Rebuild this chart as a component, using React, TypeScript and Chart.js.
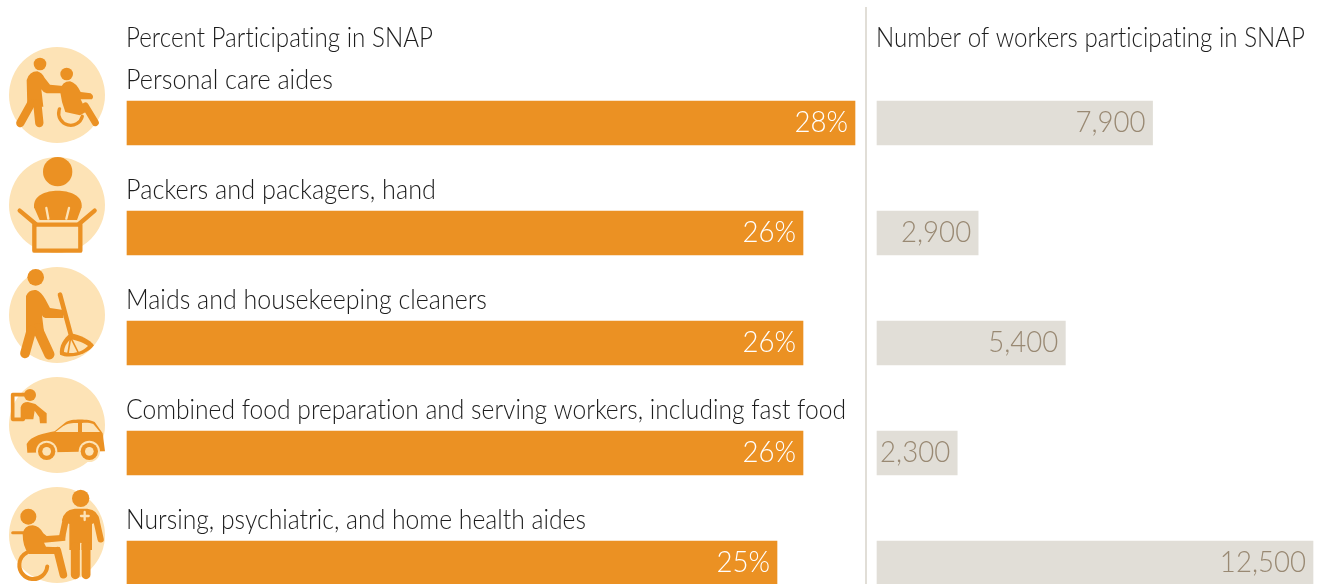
import React, { useEffect, useRef } from "react";
import { Chart, registerables } from "chart.js";

Chart.register(...registerables);

const categories = [
  "Personal care aides",
  "Packers and packagers, hand",
  "Maids and housekeeping cleaners",
  "Combined food preparation and serving workers, including fast food",
  "Nursing, psychiatric, and home health aides",
];
const percentValues = [28, 26, 26, 26, 25];
const workerValues = [7900, 2900, 5400, 2300, 12500];
const leftTitle = "Percent Participating in SNAP";
const rightTitle = "Number of workers participating in SNAP";

const ORANGE = "#EB9123";
const PALE = "#FDE3B6";
const GREY_BAR = "#E1DED7";
const GREY_TEXT = "#998973";
const INK = "#1c1c1c";
const FONT = "Lato";
const W = 1319;
const H = 584;
const SPLIT = 866;
// Rendered widths of the text lines, so that the substitute font keeps the original's set width.
const labelWidths = [207, 310, 361, 720, 460];
const leftTitleWidth = 307;
const rightTitleWidth = 429;
const valueSqueeze = 0.92;

type Ctx = CanvasRenderingContext2D;

function dot(c: Ctx, x: number, y: number, r: number, col = ORANGE) {
  c.fillStyle = col;
  c.beginPath();
  c.arc(x, y, r, 0, Math.PI * 2);
  c.fill();
}
function line(c: Ctx, w: number, pts: number[], col = ORANGE) {
  c.strokeStyle = col;
  c.lineWidth = w;
  c.lineCap = "round";
  c.lineJoin = "round";
  c.beginPath();
  for (let i = 0; i < pts.length; i += 2) {
    if (i === 0) c.moveTo(pts[i], pts[i + 1]);
    else c.lineTo(pts[i], pts[i + 1]);
  }
  c.stroke();
}
function shape(c: Ctx, d: string, col = ORANGE) {
  c.fillStyle = col;
  c.fill(new Path2D(d));
}

// Pictograms, each drawn in its own 3x coordinate space around [cx, cy].
const icons: { cx: number; cy: number; draw: (c: Ctx) => void }[] = [
  {
    cx: 171,
    cy: 285,
    draw: (c) => {
      dot(c, 120, 192, 19);
      shape(c, "M80 240 Q88 214 112 214 Q126 218 134 234 L150 254 L190 258 L190 280 L140 280 Q130 278 124 268 L130 320 L82 320 Z");
      line(c, 25, [94, 310, 61, 369]);
      line(c, 25, [112, 310, 118, 369]);
      dot(c, 200, 222, 19);
      shape(c, "M180 272 Q186 244 210 244 Q228 248 242 276 L272 280 Q284 288 276 298 L242 298 L250 314 Q262 316 268 330 L240 346 L196 336 Q184 306 180 272 Z");
      c.strokeStyle = ORANGE;
      c.lineWidth = 10;
      c.beginPath();
      c.arc(212, 340, 36, 0.25, Math.PI * 1.12);
      c.stroke();
      line(c, 21, [256, 318, 286, 368]);
    },
  },
  {
    cx: 172,
    cy: 615,
    draw: (c) => {
      dot(c, 174, 515, 44);
      shape(c, "M103 622 C100 585 140 572 174 572 C208 572 250 585 246 622 L232 660 L120 660 Z");
      line(c, 7, [140, 624, 146, 656], PALE);
      line(c, 7, [208, 624, 200, 656], PALE);
      c.fillStyle = PALE;
      c.fillRect(104, 674, 138, 78);
      c.strokeStyle = ORANGE;
      c.lineWidth = 13;
      c.lineJoin = "round";
      c.strokeRect(104, 674, 138, 78);
      line(c, 13, [60, 632, 108, 672]);
      line(c, 13, [285, 632, 238, 672]);
    },
  },
  {
    cx: 171,
    cy: 165,
    draw: (c) => {
      dot(c, 107, 52, 25);
      shape(c, "M78 108 Q86 88 108 90 Q124 96 136 118 L150 144 L190 150 L190 174 L136 174 Q128 172 126 166 L132 216 L78 216 Z");
      line(c, 31, [112, 205, 148, 283]);
      line(c, 29, [94, 212, 75, 280]);
      line(c, 14, [180, 104, 212, 222]);
      shape(c, "M212 220 C240 224 270 240 282 256 C262 284 210 298 180 284 C176 260 192 232 212 220 Z");
      shape(c, "M212 238 C234 242 254 250 264 258 C246 276 218 284 192 276 C192 262 200 248 212 238 Z", PALE);
      line(c, 5, [212, 232, 204, 280]);
      line(c, 5, [212, 232, 234, 276]);
    },
  },
  {
    cx: 171,
    cy: 495,
    draw: (c) => {
      line(c, 11, [74, 404, 38, 404, 38, 478, 70, 478], ORANGE);
      dot(c, 90, 405, 18);
      shape(c, "M62 478 L62 442 Q66 426 84 426 L106 432 L140 460 L140 490 L120 490 L118 472 L104 452 L100 478 Z");
      shape(c, "M82 578 L80 552 C92 528 132 520 164 514 L198 486 C212 476 268 476 284 486 L308 520 L315 574 L82 578 Z");
      shape(c, "M166 516 L234 516 L234 489 C212 488 200 492 190 498 Z", PALE);
      shape(c, "M246 516 L300 516 L280 492 C270 488 256 488 246 489 Z", PALE);
      for (const x of [140, 268]) {
        dot(c, x, 574, 32, PALE);
        dot(c, x, 574, 26);
        dot(c, x, 574, 13, PALE);
      }
    },
  },
  {
    cx: 171,
    cy: 825,
    draw: (c) => {
      dot(c, 242, 715, 26);
      shape(c, "M186 782 Q190 750 224 746 L262 746 Q296 750 298 782 L276 792 L276 870 L208 870 L208 792 Z");
      line(c, 19, [198, 776, 186, 832]);
      line(c, 19, [288, 776, 302, 838]);
      line(c, 27, [226, 860, 226, 944]);
      line(c, 27, [258, 860, 258, 944]);
      line(c, 4, [242, 850, 242, 950], PALE);
      line(c, 7, [254, 756, 254, 780], PALE);
      line(c, 7, [243, 768, 266, 768], PALE);
      dot(c, 85, 770, 24);
      line(c, 9, [38, 818, 96, 818]);
      shape(c, "M68 822 Q72 796 98 796 Q118 798 130 820 L140 828 L196 824 L196 842 L132 848 L138 860 L180 862 L180 882 L86 882 Q68 860 68 822 Z");
      c.strokeStyle = ORANGE;
      c.lineWidth = 12;
      c.beginPath();
      c.arc(100, 915, 42, 0.1, Math.PI * 1.35);
      c.stroke();
      line(c, 23, [172, 872, 190, 944]);
    },
  },
];

function text(c: Ctx, s: string, x: number, y: number, size: number, col: string, fit: { width?: number; squeeze?: number }, align: CanvasTextAlign = "left", weight = 300) {
  c.save();
  c.font = `${weight} ${size}px ${FONT}`;
  (c as any).letterSpacing = "0.01px"; // turns the font's ti/fi ligatures off
  c.fillStyle = col;
  c.textAlign = align;
  c.textBaseline = "alphabetic";
  const sx = fit.width ? fit.width / c.measureText(s).width : fit.squeeze ?? 1;
  c.translate(x, y);
  c.scale(sx, 1);
  c.fillText(s, 0, 0);
  c.restore();
}

const leftPlugin = {
  id: "leftDecor",
  afterDatasetsDraw(chart: any) {
    const c: Ctx = chart.ctx;
    const meta = chart.getDatasetMeta(0);
    const left = chart.chartArea.left;
    c.save();
    text(c, leftTitle, left - 1, 47, 27, INK, { width: leftTitleWidth });
    meta.data.forEach((bar: any, i: number) => {
      const top = bar.y - 22;
      text(c, categories[i], left - 1, top - 12, 27, INK, { width: labelWidths[i] });
      text(c, `${percentValues[i]}%`, bar.x - 7, bar.y + 9, 30, "#ffffff", { squeeze: valueSqueeze }, "right");
      const yc = bar.y - 28;
      dot(c, 57, yc, 48, PALE);
      const icon = icons[i];
      c.save();
      c.translate(57, yc);
      c.scale(1 / 3, 1 / 3);
      c.translate(-icon.cx, -icon.cy);
      icon.draw(c);
      c.restore();
    });
    c.restore();
  },
};

const rightPlugin = {
  id: "rightDecor",
  afterDatasetsDraw(chart: any) {
    const c: Ctx = chart.ctx;
    const meta = chart.getDatasetMeta(0);
    c.save();
    c.fillStyle = GREY_BAR;
    c.fillRect(0, 7, 2, H);
    text(c, rightTitle, chart.chartArea.left - 1, 47, 27, INK, { width: rightTitleWidth });
    meta.data.forEach((bar: any, i: number) => {
      text(c, workerValues[i].toLocaleString("en-US"), bar.x - 7, bar.y + 9, 30, GREY_TEXT, { squeeze: valueSqueeze }, "right");
    });
    c.restore();
  },
};

function makeChart(canvas: HTMLCanvasElement, values: number[], max: number, color: string, padLeft: number, padRight: number, plugin: any) {
  return new Chart(canvas, {
    type: "bar",
    data: {
      labels: categories,
      datasets: [{ data: values, backgroundColor: color, barThickness: 44, borderWidth: 0, clip: false } as any],
    },
    options: {
      indexAxis: "y",
      animation: false,
      responsive: false,
      devicePixelRatio: 1,
      layout: { padding: { left: padLeft, right: padRight, top: 123, bottom: 21 } },
      plugins: { legend: { display: false }, tooltip: { enabled: false }, title: { display: false } },
      scales: {
        x: { display: false, min: 0, max, grid: { display: false } },
        y: { display: false, offset: false, grid: { display: false } },
      },
    },
    plugins: [plugin],
  });
}

export default function App() {
  const leftRef = useRef<HTMLCanvasElement>(null);
  const rightRef = useRef<HTMLCanvasElement>(null);
  useEffect(() => {
    document.body.style.margin = "0";
    document.body.style.background = "#fff";
    const a = makeChart(leftRef.current!, percentValues, 28, ORANGE, 127, 11, leftPlugin);
    const b = makeChart(rightRef.current!, workerValues, 12500, GREY_BAR, 12, 6, rightPlugin);
    return () => {
      a.destroy();
      b.destroy();
    };
  }, []);
  const rightWidth = W - SPLIT + 1;
  return (
    <div style={{ position: "relative", width: W, height: H, overflow: "hidden" }}>
      <canvas ref={leftRef} width={SPLIT} height={H} style={{ position: "absolute", left: 0, top: 0, width: SPLIT, height: H }} />
      <canvas ref={rightRef} width={rightWidth} height={H} style={{ position: "absolute", left: SPLIT - 1, top: 0, width: rightWidth, height: H }} />
    </div>
  );
}
